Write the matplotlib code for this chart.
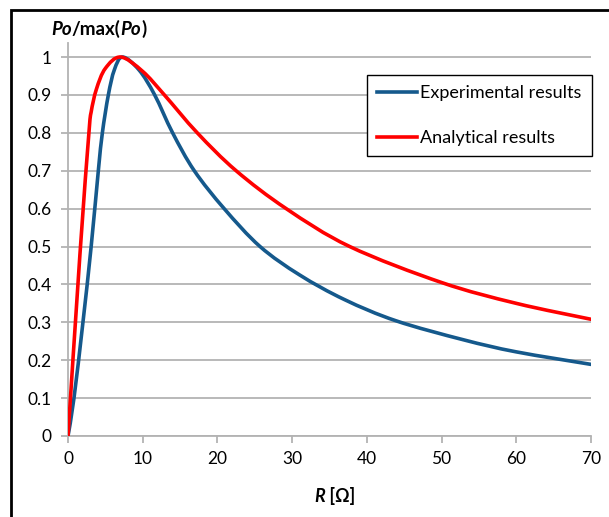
import matplotlib.pyplot as plt
from matplotlib.patches import Rectangle, PathPatch
from matplotlib.path import Path
from matplotlib.lines import Line2D

# normalised output power vs load resistance
r_exp = [0, 0.8, 2.0, 3.1, 4.06, 4.6, 5.4, 6.2, 7.3, 9.5, 11.6, 14.0, 16.9,
         20.9, 25.7, 31.0, 37.0, 43.9, 52.9, 60.0, 70.0]
po_exp = [0, 0.1, 0.3, 0.5, 0.7, 0.8, 0.9, 0.966, 1.0, 0.966, 0.9, 0.8, 0.7,
          0.6, 0.5, 0.425, 0.36, 0.304, 0.254, 0.222, 0.189]

r_ana = [0, 1.6, 2.8, 3.1, 3.8, 5.0, 7.06, 10, 12.9, 17.3, 22.5, 29.2, 37.7,
         50, 60, 70]
po_ana = [0, 0.48, 0.8, 0.855, 0.915, 0.97, 1.0, 0.962, 0.9, 0.8, 0.7, 0.6,
          0.5, 0.405, 0.35, 0.308]

x_ticks = [0, 10, 20, 30, 40, 50, 60, 70]
y_ticks = [0, 0.1, 0.2, 0.3, 0.4, 0.5, 0.6, 0.7, 0.8, 0.9, 1]
y_labels = ["0", "0.1", "0.2", "0.3", "0.4", "0.5", "0.6", "0.7", "0.8", "0.9", "1"]


def smooth_path(xs, ys):
    """Bezier path through the points, spreadsheet-style smoothed line."""
    pts = list(zip(xs, ys))
    verts = [pts[0]]
    codes = [Path.MOVETO]
    n = len(pts)
    for i in range(n - 1):
        p0 = pts[max(i - 1, 0)]
        p1 = pts[i]
        p2 = pts[i + 1]
        p3 = pts[min(i + 2, n - 1)]
        c1 = (p1[0] + (p2[0] - p0[0]) / 6, p1[1] + (p2[1] - p0[1]) / 6)
        c2 = (p2[0] - (p3[0] - p1[0]) / 6, p2[1] - (p3[1] - p1[1]) / 6)
        verts += [c1, c2, p2]
        codes += [Path.CURVE4] * 3
    return Path(verts, codes)


plt.rcParams["font.family"] = ["Lato", "DejaVu Sans"]
W, H = 609, 517
fig = plt.figure(figsize=(W / 100, H / 100), dpi=100)
ax = fig.add_axes([68 / W, 1 - 436 / H, 523 / W, 393 / H])

blue = "#15598C"
red = "#FF0000"
grid = "#B3B3B3"

for xs, ys, c in [(r_exp, po_exp, blue), (r_ana, po_ana, red)]:
    ax.add_patch(PathPatch(smooth_path(xs, ys), fill=False, edgecolor=c,
                           lw=2.6, capstyle="round", joinstyle="round",
                           zorder=3))

ax.set_xlim(0, 70)
ax.set_ylim(0, 1.037)
ax.set_xticks(x_ticks)
ax.set_yticks(y_ticks)
ax.set_yticklabels(y_labels)
ax.yaxis.grid(True, color=grid, lw=1.3)
ax.set_axisbelow(True)
for s in ["top", "right"]:
    ax.spines[s].set_visible(False)
for s in ["left", "bottom"]:
    ax.spines[s].set_color(grid)
    ax.spines[s].set_linewidth(1.3)
ax.tick_params(axis="both", colors=grid, length=5, width=1.3, labelsize=12.5,
               labelcolor="black")
ax.tick_params(axis="y", pad=7)
ax.tick_params(axis="x", pad=6)

handles = [Line2D([], [], color=blue, lw=2.6),
           Line2D([], [], color=red, lw=2.6)]
leg = ax.legend(handles, ["Experimental results", "Analytical results"],
                loc="upper left", bbox_to_anchor=(367 / W, 1 - 75 / H),
                bbox_transform=fig.transFigure, fontsize=13, frameon=True,
                fancybox=False, edgecolor="black", framealpha=1,
                handlelength=2.2, handletextpad=0.2, labelspacing=1.6,
                borderpad=0.55, borderaxespad=0)
leg.get_frame().set_linewidth(1.0)

# y-axis title: Po/max(Po)
t1 = fig.text(51 / W, 1 - 35 / H, "Po", fontsize=13.5, fontweight="bold",
              style="italic", va="baseline")
t2 = ax.annotate("/max(", xycoords=t1, xy=(1, 0), va="bottom",
                 fontsize=13.5, fontweight="bold", annotation_clip=False)
t3 = ax.annotate("Po", xycoords=t2, xy=(1, 0), va="bottom",
                 fontsize=13.5, fontweight="bold", style="italic",
                 annotation_clip=False)
ax.annotate(")", xycoords=t3, xy=(1, 0), va="bottom",
            fontsize=13.5, fontweight="bold", annotation_clip=False)

# x-axis title: R [Ω]
u1 = fig.text(314 / W, 1 - 502 / H, "R", fontsize=13, fontweight="bold",
              style="italic", va="baseline")
ax.annotate(" [Ω]", xycoords=u1, xy=(1, 0), va="bottom",
            fontsize=13, fontweight="bold", annotation_clip=False)

# chart border
fig.patches.append(Rectangle((11 / W, -0.1), 1.2, 1 - 10 / H + 0.1,
                             transform=fig.transFigure, fill=False,
                             edgecolor="black", lw=2))

fig.savefig("out.png", dpi=100)
